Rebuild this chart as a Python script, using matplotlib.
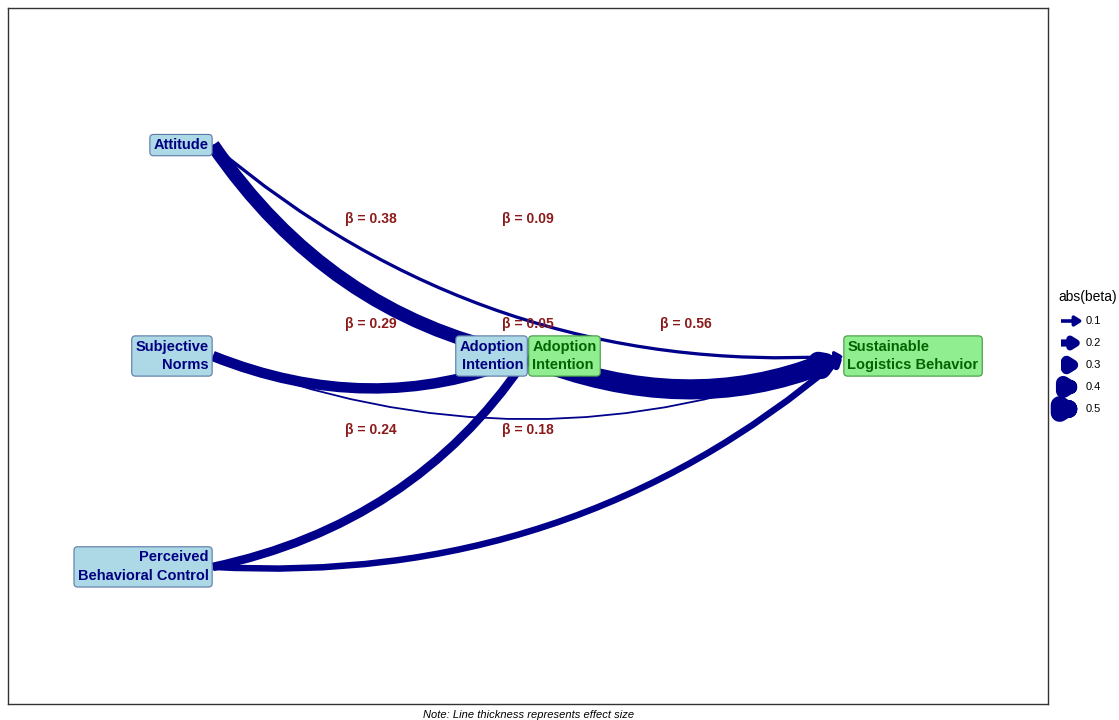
import matplotlib.pyplot as plt
from matplotlib.patches import FancyArrowPatch

plt.rcParams['font.family'] = ['Liberation Sans', 'DejaVu Sans']

# nodes of the path model
node_id = ["ATT", "SN", "PBC", "AI", "SLB"]
node_label = ["Attitude", "Subjective\nNorms", "Perceived\nBehavioral Control",
              "Adoption\nIntention", "Sustainable\nLogistics Behavior"]
node_x = [1, 1, 1, 2, 3]
node_y = [3, 2, 1, 2, 2]

# paths and standardized effects
edge_from = ["ATT", "ATT", "SN", "SN", "PBC", "PBC", "AI"]
edge_to = ["AI", "SLB", "AI", "SLB", "AI", "SLB", "SLB"]
beta = [0.38, 0.09, 0.29, 0.05, 0.24, 0.18, 0.56]

legend_breaks = [0.1, 0.2, 0.3, 0.4, 0.5]

line_col = "#00008B"
beta_col = "#8B1A1A"
px = 100 / 72.0
lw_per_beta = 36 / px   # points of line width per unit of |beta|

pos = {k: (x, y) for k, x, y in zip(node_id, node_x, node_y)}

fig = plt.figure(figsize=(11.19, 7.2), dpi=100)
ax = fig.add_axes([8 / 1119, 16 / 720, 1040 / 1119, 696 / 720])
ax.set_xlim(0.35, 3.65)
ax.set_ylim(0.35, 3.65)
ax.set_xticks([])
ax.set_yticks([])
for s in ax.spines.values():
    s.set_color("#333333")
    s.set_linewidth(1.0)


def arrow(a, p0, p1, b, rad, clip=True):
    ar = FancyArrowPatch(p0, p1, connectionstyle="arc3,rad=%s" % rad,
                         arrowstyle="-|>,head_length=0.45,head_width=0.28",
                         mutation_scale=10, shrinkA=0, shrinkB=0,
                         color=line_col, linewidth=abs(b) * lw_per_beta,
                         joinstyle="round", capstyle="butt", zorder=2,
                         clip_on=clip)
    a.add_patch(ar)


# curved paths
for f, t, b in zip(edge_from, edge_to, beta):
    x0, y0 = pos[f]
    x1, y1 = pos[t]
    arrow(ax, (x0, y0), (x1, y1), b, 0.2)
    ax.text((x0 + x1) / 2, (y0 + y1) / 2 + 0.15, "\u03b2 = %.2f" % b,
            color=beta_col, fontsize=10, fontweight="bold",
            ha="center", va="center", zorder=5)

blue_box = dict(boxstyle="round,pad=0.25,rounding_size=0.25", fc="#ADD8E6", ec="#5A78A8", lw=0.8)
green_box = dict(boxstyle="round,pad=0.25,rounding_size=0.25", fc="#90EE90", ec="#3F9A3F", lw=0.8)
off = 0.25 * 10.5 + 0.5

# predictor labels (and mediator as predictor)
for k, lab, x, y in zip(node_id, node_label, node_x, node_y):
    if k in ("ATT", "SN", "PBC", "AI"):
        ax.annotate(lab, (x, y), xytext=(-off, 0), textcoords="offset points",
                    ha="right", va="center", multialignment="right",
                    fontsize=10.5, fontweight="bold", color="#000080",
                    linespacing=1.45, bbox=blue_box, zorder=6)
    if k in ("AI", "SLB"):
        ax.annotate(lab, (x, y), xytext=(off, 0), textcoords="offset points",
                    ha="left", va="center", multialignment="left",
                    fontsize=10.5, fontweight="bold", color="#006400",
                    linespacing=1.45, bbox=green_box, zorder=6)

fig.text(529 / 1119, 1 - 715 / 720, "Note: Line thickness represents effect size",
         fontsize=8, style="italic", ha="center", va="center")

# legend
lax = fig.add_axes([1052 / 1119, (720 - 425) / 720, 67 / 1119, 140 / 720])
lax.set_xlim(0, 67)
lax.set_ylim(140, 0)
lax.axis("off")
lax.text(6, 12, "abs(beta)", fontsize=10, ha="left", va="center")
for i, b in enumerate(legend_breaks):
    yk = 36 + 22 * i
    arrow(lax, (9, yk), (31, yk), b, 0.0, clip=False)
    lax.text(34, yk, "%.1f" % b, fontsize=8, ha="left", va="center")

fig.savefig("out.png", dpi=100)
